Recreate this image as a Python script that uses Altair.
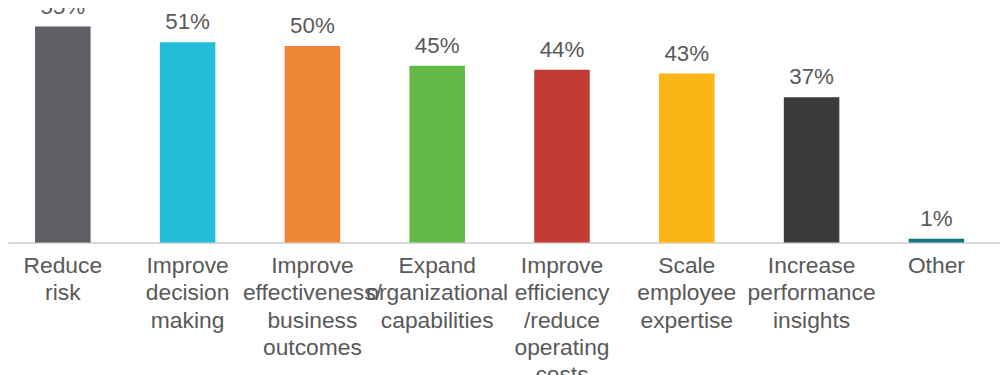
import altair as alt
import pandas as pd

categories = [
    "Reduce\nrisk",
    "Improve\ndecision\nmaking",
    "Improve\neffectiveness/\nbusiness\noutcomes",
    "Expand\norganizational\ncapabilities",
    "Improve\nefficiency\n/reduce\noperating\ncosts",
    "Scale\nemployee\nexpertise",
    "Increase\nperformance\ninsights",
    "Other",
]
values = [55, 51, 50, 45, 44, 43, 37, 1]
colors = ["#5e5f64", "#24bdd7", "#ef8536", "#62b946", "#c23b34", "#fbb615", "#3a3b3d", "#137482"]

df = pd.DataFrame({"cat": categories, "val": values, "label": [f"{v}%" for v in values]})

FONT = "Liberation Sans"
GREY = "#595959"

x = alt.X(
    "cat:N",
    sort=categories,
    scale=alt.Scale(paddingInner=0.555, paddingOuter=0.252, align=0.43),
    axis=alt.Axis(
        title=None,
        ticks=False,
        labelAngle=0,
        labelExpr="split(datum.value, '\\n')",
        labelFont=FONT,
        labelFontSize=23,
        labelColor=GREY,
        labelBaseline="alphabetic",
        labelLineHeight=27.7,
        labelPadding=29.7,
        labelOverlap=False,
        labelLimit=400,
        domainColor="#d9d9d9",
        domainWidth=2,
    ),
)
y = alt.Y(
    "val:Q",
    scale=alt.Scale(domain=[0, 59.3], nice=False, zero=True),
    axis=None,
)

bars = alt.Chart(df).mark_bar().encode(
    x=x,
    y=y,
    color=alt.Color("cat:N", sort=categories, scale=alt.Scale(domain=categories, range=colors), legend=None),
)

texts = alt.Chart(df).mark_text(
    font=FONT, fontSize=22.5, color=GREY, baseline="alphabetic", dy=-13
).encode(x=alt.X("cat:N", sort=categories), y="val:Q", text="label:N")

chart = (
    alt.layer(bars, texts)
    .properties(
        width=1000,
        height=235,
        autosize=alt.AutoSizeParams(type="none"),
        padding={"left": 0, "top": 0, "right": 0, "bottom": 140},
    )
    .configure_view(stroke=None)
)

chart.save("out.html", embed_options={"renderer": "svg", "actions": False})
